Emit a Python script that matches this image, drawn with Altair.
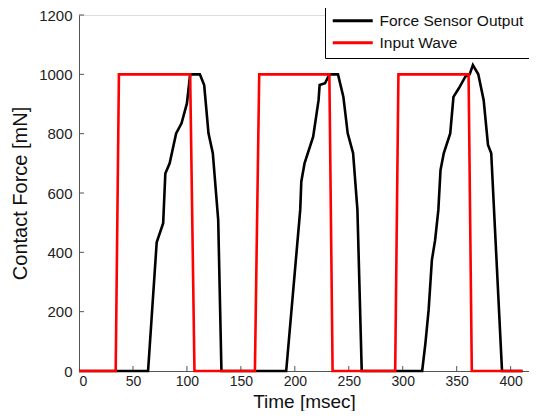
import altair as alt
import pandas as pd

# Force sensor output (black) - time [msec], force [mN]
force_t = [0, 64, 72, 78, 80, 84, 90, 95, 100, 103, 112, 116, 120, 124, 129, 132,
           192, 205, 206, 209, 217, 222, 223, 228, 232, 240, 245, 249, 254, 258, 262,
           318, 321, 324, 327, 330, 333, 335, 338, 344, 347, 352, 358, 362, 365, 370,
           375, 379, 382, 392, 411]
force_v = [0, 0, 434, 498, 666, 700, 801, 835, 902, 1000, 1000, 964, 801, 734, 509, 0,
           0, 543, 638, 700, 790, 913, 964, 970, 1000, 1000, 924, 801, 734, 543, 0,
           0, 93, 206, 374, 441, 543, 677, 734, 801, 924, 953, 992, 1000, 1031, 1000,
           913, 762, 734, 0, 0]

# Input wave (red)
input_t = [0, 34, 37, 103, 107, 163, 167, 232, 235, 293, 296, 361, 364, 411]
input_v = [0, 0, 1000, 1000, 0, 0, 1000, 1000, 0, 0, 1000, 1000, 0, 0]

series_names = ["Force Sensor Output", "Input Wave"]
series_colors = ["#000000", "#ff0000"]

x_ticks = [0, 50, 100, 150, 200, 250, 300, 350, 400]
y_ticks = [0, 200, 400, 600, 800, 1000, 1200]

W, H = 450, 356
FONT = "Liberation Sans"
AXC = "#555555"

df_force = pd.DataFrame({"t": force_t, "v": force_v, "series": series_names[0],
                         "i": range(len(force_t))})
df_input = pd.DataFrame({"t": input_t, "v": input_v, "series": series_names[1],
                         "i": range(len(input_t))})

xscale = alt.Scale(domain=[0, 417], nice=False, zero=False)
yscale = alt.Scale(domain=[0, 1200], nice=False)
cscale = alt.Scale(domain=series_names, range=series_colors)

xaxis = alt.Axis(title="Time [msec]", values=x_ticks, format="d", grid=False, ticks=False, tickSize=0,
                 labelFontSize=14, labelPadding=3, labelFont=FONT, labelColor="#222",
                 domainColor=AXC, titleFont=FONT, titleFontSize=19, titleFontWeight="normal",
                 titleColor="#111", titleBaseline="alphabetic", titleY=36)
yaxis = alt.Axis(title="Contact Force [mN]", values=y_ticks, format="d", grid=False, ticks=False, tickSize=0,
                 labelFontSize=15, labelPadding=7, labelFont=FONT, labelColor="#222",
                 domainColor=AXC, titleFont=FONT, titleFontSize=20, titleFontWeight="normal",
                 titleColor="#111", titleBaseline="alphabetic", titleX=-53, titleY=H / 2,
                 titleAlign="center")

legend = alt.Legend(title=None, orient="none", legendX=246, legendY=-8,
                    strokeColor="#000000", fillColor="white", padding=6,
                    symbolType="M-4,0L4,0", symbolSize=100, symbolOffset=14,
                    symbolStrokeWidth=3,
                    labelFontSize=15.5, labelFont=FONT, labelColor="#111", labelOffset=19,
                    rowPadding=5)

force_line = alt.Chart(df_force).mark_line(strokeWidth=2.6).encode(
    x=alt.X("t:Q", scale=xscale, axis=xaxis),
    y=alt.Y("v:Q", scale=yscale, axis=yaxis),
    color=alt.Color("series:N", scale=cscale, legend=legend),
    order="i:Q",
)
input_line = alt.Chart(df_input).mark_line(strokeWidth=2.6).encode(
    x=alt.X("t:Q", scale=xscale),
    y=alt.Y("v:Q", scale=yscale),
    color=alt.Color("series:N", scale=cscale, legend=legend),
    order="i:Q",
)

xt = alt.Chart(pd.DataFrame({"t": x_ticks[1:]})).mark_rule(color=AXC, strokeWidth=1).encode(
    x=alt.X("t:Q", scale=xscale), y=alt.value(H), y2=alt.value(H - 5))
yt = alt.Chart(pd.DataFrame({"v": y_ticks[1:]})).mark_rule(color=AXC, strokeWidth=1).encode(
    y=alt.Y("v:Q", scale=yscale), x=alt.value(0), x2=alt.value(5))

chart = alt.layer(xt, yt, force_line, input_line).properties(
    width=W, height=H,
    autosize=alt.AutoSizeParams(type="none"),
    padding={"left": 71, "top": 7, "right": 0, "bottom": 40},
).configure_view(stroke=None).configure(background="white")

chart.save("out.html", embed_options={"renderer": "svg", "actions": False})
